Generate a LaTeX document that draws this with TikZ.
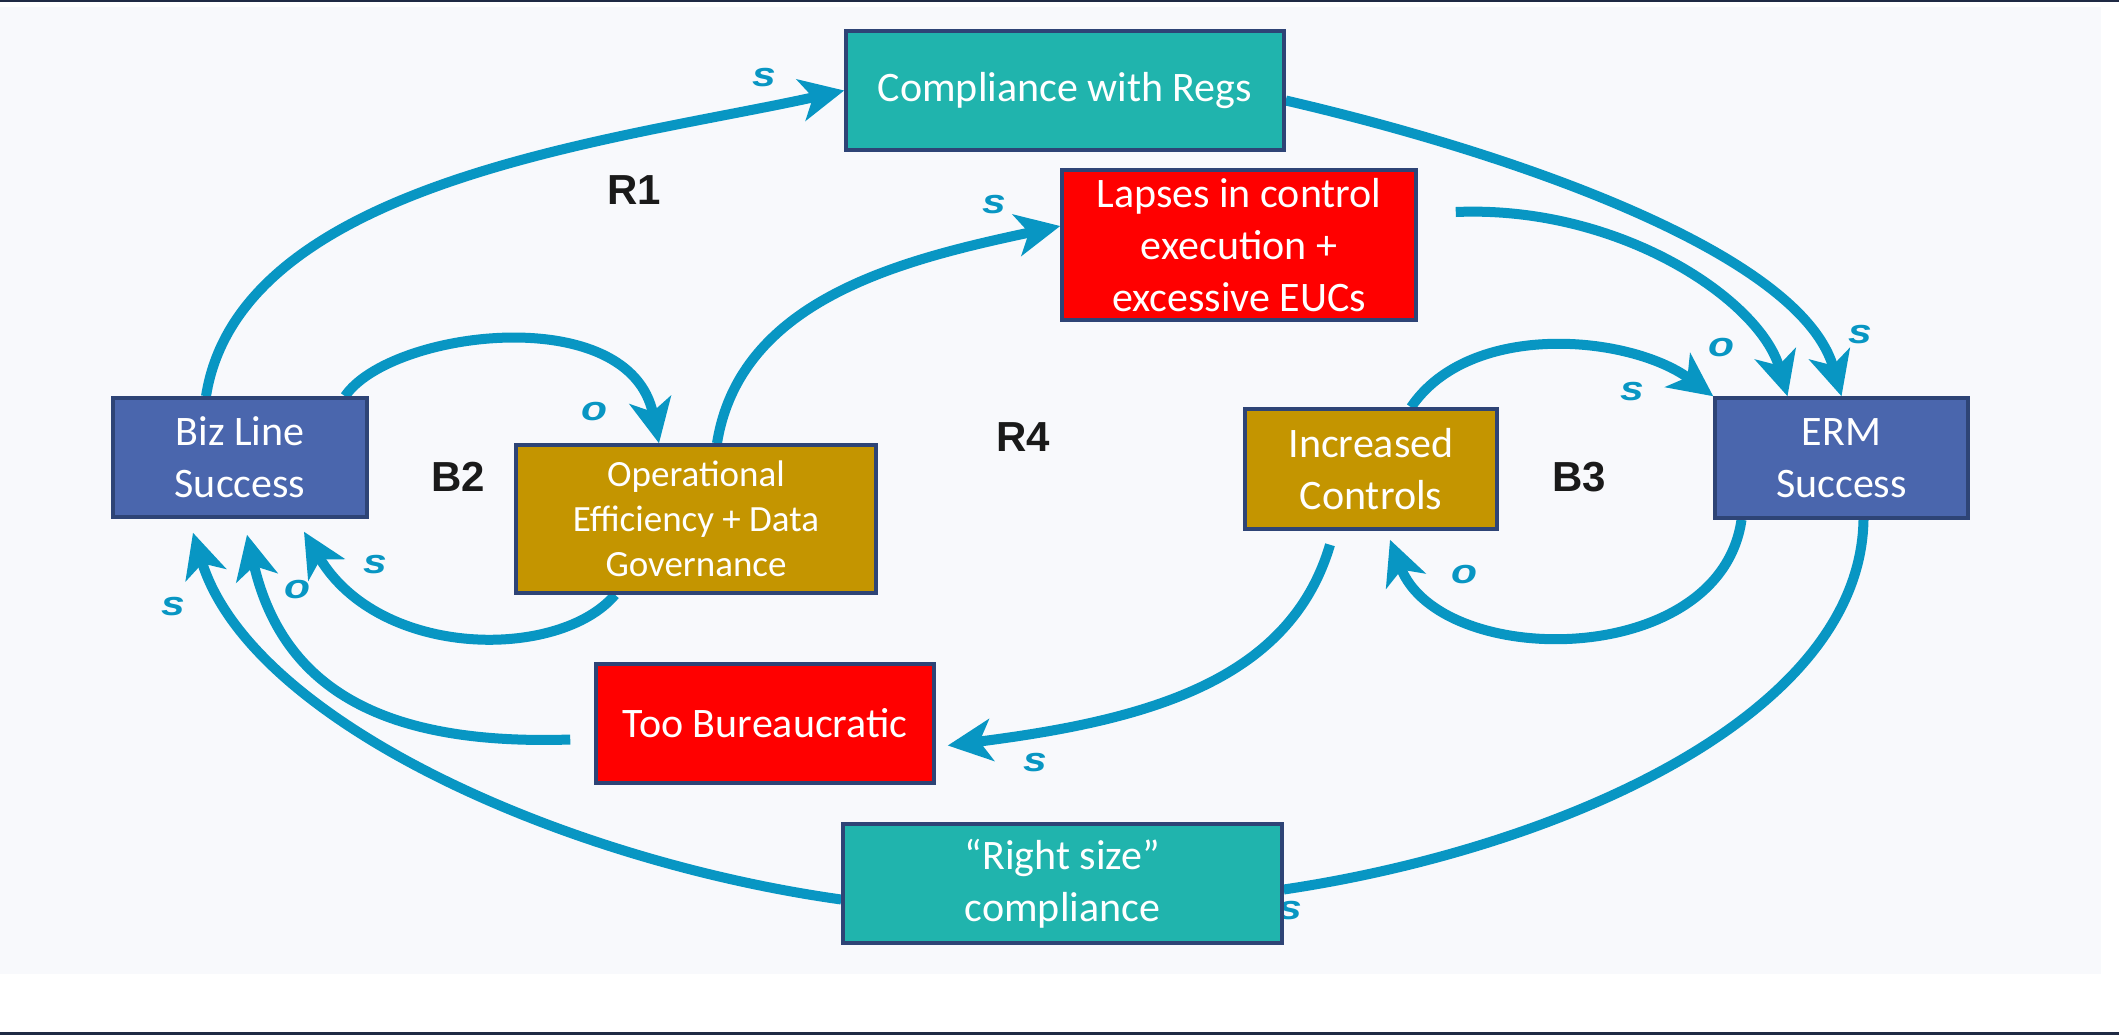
\documentclass[tikz,border=0pt]{standalone}
\usepackage{fontspec}
\setmainfont{Carlito}
\newfontfamily\looplabel{Liberation Sans}
\usetikzlibrary{arrows.meta}

\definecolor{bgpanel}{HTML}{F8F9FC}
\definecolor{frameline}{HTML}{1F2A44}
\definecolor{edgeblue}{HTML}{2E4476}
\definecolor{tealfill}{HTML}{20B4AD}
\definecolor{bluefill}{HTML}{4A66AD}
\definecolor{goldfill}{HTML}{C49500}
\definecolor{redfill}{HTML}{FF0000}
\definecolor{linkblue}{HTML}{0896C3}
\definecolor{loopink}{HTML}{1A1A1A}

\pgfdeclarelayer{back}
\pgfdeclarelayer{links}
\pgfsetlayers{back,links,main}

\begin{document}
\begin{tikzpicture}[x=0.5pt,y=-0.5pt,
  box/.style={draw=edgeblue, line width=1.75pt, inner sep=0pt, align=center,
    text=white, font=\fontsize{21}{26}\selectfont},
  tealbox/.style={box, fill=tealfill},
  bluebox/.style={box, fill=bluefill},
  goldbox/.style={box, fill=goldfill},
  redbox/.style={box, fill=redfill},
  link/.style={draw=linkblue, line width=5pt,
    -{Stealth[length=22pt,width=21pt,inset=6pt]}},
  plainlink/.style={draw=linkblue, line width=5pt},
  polarity/.style={text=linkblue, inner sep=0pt, xscale=1.25,
    font=\looplabel\bfseries\itshape\fontsize{17}{17}\selectfont},
  looptag/.style={text=loopink, inner sep=0pt,
    font=\looplabel\bfseries\fontsize{21}{21}\selectfont}
]
\useasboundingbox (0,0) rectangle (2119,1035);

% page and panel
\begin{pgfonlayer}{back}
  \fill[white] (0,0) rectangle (2119,1035);
  \fill[bgpanel] (0,7) rectangle (2101,974);
  \fill[frameline] (0,0) rectangle (2119,2);
  \fill[frameline] (0,1032) rectangle (2119,1035);
\end{pgfonlayer}

% variables
\node[tealbox, minimum width=219pt, minimum height=59.5pt] (comp) at (1065,90.5) {Compliance with Regs};
\node[redbox, minimum width=177pt, minimum height=75pt] (lapses) at (1239,245) {Lapses in control\\execution +\\excessive EUCs};
\node[bluebox, minimum width=127pt, minimum height=59.5pt] (biz) at (240,457.5) {Biz Line\\Success};
\node[goldbox, minimum width=180pt, minimum height=74pt, font=\fontsize{18.5}{22.5}\selectfont] (ops) at (696,519) {Operational\\Efficiency + Data\\Governance};
\node[goldbox, minimum width=126pt, minimum height=60pt] (inc) at (1371,469) {Increased\\Controls};
\node[bluebox, minimum width=126.5pt, minimum height=60pt] (erm) at (1841.5,458) {ERM\\Success};
\node[redbox, minimum width=169pt, minimum height=59.5pt] (bur) at (765,723.5) {Too Bureaucratic};
\node[tealbox, minimum width=219.5pt, minimum height=59.5pt] (right) at (1062.5,883.5) {“Right size”\\compliance};

% loop names
\node[looptag] (r1) at (634,190) {R1};
\node[looptag] (b2) at (458,477) {B2};
\node[looptag] (r4) at (1023,437) {R4};
\node[looptag] (b3) at (1579,477) {B3};

% causal links
\begin{pgfonlayer}{links}
  % R1
  \draw[link] ([xshift=-17pt]biz.north) .. controls (240,180) and (620,140) .. (comp.west);
  \draw[link] ([yshift=-5pt]comp.east) .. controls (1500,150) and (1800,250) .. (erm.north);
  % B2
  \draw[link] ([xshift=52.5pt]biz.north) .. controls (390,330) and (630,300) .. ([xshift=-18.5pt]ops.north);
  \draw[link] ([xshift=-40.5pt]ops.south) .. controls (560,660) and (380,660) .. ([xshift=32pt,yshift=-6.5pt]biz.south);
  % R4
  \draw[link] ([xshift=10.5pt]ops.north) .. controls (740,300) and (900,260) .. ([yshift=9.5pt]lapses.west);
  \draw[link] ([xshift=19pt,yshift=16.5pt]lapses.east) .. controls (1620,205) and (1760,300) .. ([xshift=-27pt]erm.north);
  \draw[link] ([xshift=-20.5pt,yshift=-7pt]inc.south) .. controls (1290,680) and (1150,720) .. ([xshift=6pt,yshift=-11pt]bur.east);
  \draw[link] ([xshift=-12pt,yshift=-8pt]bur.west) .. controls (400,745) and (285,700) .. ([xshift=3.5pt,yshift=-8pt]biz.south);
  % B3
  \draw[link] ([xshift=20pt]inc.north) .. controls (1470,320) and (1630,335) .. (erm.north west);
  \draw[link] ([xshift=-50pt]erm.south) .. controls (1720,670) and (1440,670) .. ([xshift=9.5pt,yshift=-4.5pt]inc.south);
  % outer loop
  \draw[plainlink] ([xshift=11pt]erm.south) .. controls (1860,720) and (1550,850) .. ([yshift=-3pt]right.east);
  \draw[link] ([yshift=-8pt]right.west) .. controls (560,860) and (250,720) .. ([xshift=-23.5pt,yshift=-7pt]biz.south);

  % link polarities
  \node[polarity] (p1) at (764,78) {s};
  \node[polarity] (p2) at (994,205) {s};
  \node[polarity] (p3) at (594,412) {o};
  \node[polarity] (p4) at (375,565) {s};
  \node[polarity] (p5) at (297,590) {o};
  \node[polarity] (p6) at (173,607) {s};
  \node[polarity] (p7) at (1860,335) {s};
  \node[polarity] (p8) at (1721,348) {o};
  \node[polarity] (p9) at (1632,392) {s};
  \node[polarity] (p10) at (1464,575) {o};
  \node[polarity] (p11) at (1035,763) {s};
  \node[polarity] (p12) at (1290,911) {s};
\end{pgfonlayer}
\end{tikzpicture}
\end{document}
